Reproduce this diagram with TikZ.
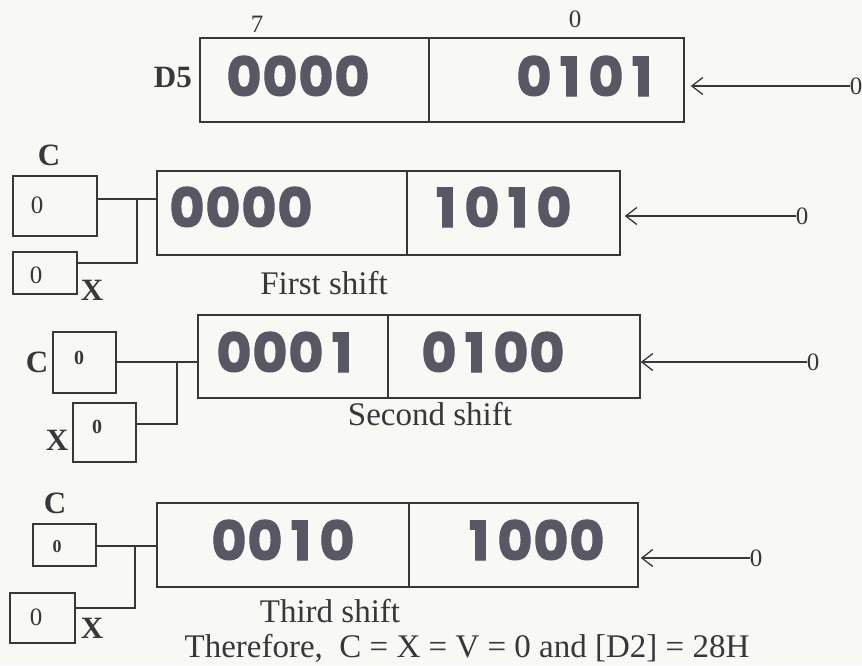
\documentclass[tikz,border=0pt]{standalone}
\usepackage{fontspec}
\setmainfont{Liberation Serif}
\newfontfamily\regfont{Poppins}[FakeBold=2]
\usetikzlibrary{positioning}
\usetikzlibrary{arrows.meta}
\definecolor{paper}{RGB}{248,248,245}
\definecolor{ink}{RGB}{55,55,60}
\definecolor{regink}{RGB}{88,88,100}
\newcommand\bitcell[1]{\makebox[36pt]{#1}}
\newcommand\nibble[4]{\bitcell{#1}\bitcell{#2}\bitcell{#3}\bitcell{#4}}
\tikzset{
  half/.style={draw=ink,line width=1.5pt,minimum height=84pt,inner sep=0pt},
  flag/.style={draw=ink,line width=1.5pt,inner sep=0pt},
  bits/.style={font=\regfont\bfseries\fontsize{54}{54}\selectfont,text=regink,inner sep=0pt},
  caption/.style={font=\fontsize{33}{33}\selectfont,text=ink,inner sep=0pt},
  tag/.style={font=\bfseries\fontsize{31}{31}\selectfont,text=ink,inner sep=0pt},
  bitno/.style={font=\fontsize{25}{25}\selectfont,text=ink,inner sep=0pt},
  link/.style={draw=ink,line width=1.3pt},
  feed/.style={draw=ink,line width=1.3pt,-{Straight Barb[length=11pt,width=17pt,line width=1.3pt]}}
}
\begin{document}
\begin{tikzpicture}[x=1pt,y=-1pt]
\fill[paper] (0,0) rectangle (862,665);
\useasboundingbox (0,0) rectangle (862,665);

% D5 before the shift
\node[half,minimum width=229pt] (a1) at (314.5,80) {};
\node[half,minimum width=255pt] (b1) at (556.5,80) {};
\node[bits] at (298,76) {\nibble0000};
\node[bits] at (588,76) {\nibble0101};
\node[bitno] at (257,24) {7};
\node[bitno] at (575,19) {0};
\node[tag,anchor=east] at (192,77) {D5};
\node[bitno] (z1) at (856,86) {0};
\draw[feed,shorten >=6pt] (z1.west) -- (b1.east |- z1);

% first shift
\node[half,minimum width=250pt] (a2) at (282,213) {};
\node[half,minimum width=213pt] (b2) at (513.5,213) {};
\node[bits] at (241,207) {\nibble0000};
\node[bits] at (500,207) {\nibble1010};
\node[flag,minimum width=84pt,minimum height=60pt] (c2) at (55,206) {};
\node[flag,minimum width=64pt,minimum height=42pt] (x2) at (45,273) {};
\node[bitno] at (37,205) {0};
\node[bitno] at (36,275) {0};
\node[tag] at (49,155) {C};
\node[tag] at (92,290) {X};
\coordinate (j2) at (137,199);
\coordinate (k2) at (137,263);
\draw[link] (c2.east |- j2) -- (a2.west |- j2);
\draw[link] (j2) -- (k2) -- (x2.east |- k2);
\node[caption] at (324,283) {First shift};
\node[bitno] (z2) at (802,216) {0};
\draw[feed,shorten >=4pt] (z2.west) -- (b2.east |- z2);

% second shift
\node[half,minimum width=190pt,minimum height=83pt] (a3) at (293,356.5) {};
\node[half,minimum width=252pt,minimum height=83pt] (b3) at (514,356.5) {};
\node[bits] at (288,352) {\nibble0001};
\node[bits] at (493,352) {\nibble0100};
\node[flag,minimum width=63pt,minimum height=61pt] (c3) at (84.5,362.5) {};
\node[flag,minimum width=63pt,minimum height=59pt] (x3) at (104.5,432.5) {};
\node[bitno,font=\bfseries\fontsize{20}{20}\selectfont] at (79,358) {0};
\node[bitno,font=\bfseries\fontsize{20}{20}\selectfont] at (97,427) {0};
\node[tag] at (37,362) {C};
\node[tag] at (57,440) {X};
\coordinate (j3) at (177,362);
\coordinate (k3) at (177,424);
\draw[link] (c3.east |- j3) -- (a3.west |- j3);
\draw[link] (j3) -- (k3) -- (x3.east |- k3);
\node[caption] at (430,414) {Second shift};
\node[bitno] (z3) at (813,362) {0};
\draw[feed] (z3.west) -- (b3.east |- z3);

% third shift
\node[half,minimum width=252pt] (a4) at (283,545) {};
\node[half,minimum width=229pt] (b4) at (523.5,545) {};
\node[bits] at (283,540) {\nibble0010};
\node[bits] at (533,540) {\nibble1000};
\node[flag,minimum width=63pt,minimum height=42pt] (c4) at (64.5,545) {};
\node[flag,minimum width=65pt,minimum height=50pt] (x4) at (42.5,618) {};
\node[bitno,font=\bfseries\fontsize{18}{18}\selectfont] at (57,547) {0};
\node[bitno] at (36,617) {0};
\node[tag] at (55,503) {C};
\node[tag] at (92,628) {X};
\coordinate (j4) at (135,546);
\coordinate (k4) at (135,608);
\draw[link] (c4.east |- j4) -- (a4.west |- j4);
\draw[link] (j4) -- (k4) -- (x4.east |- k4);
\node[caption] at (330,611) {Third shift};
\node[bitno] (z4) at (756,558) {0};
\draw[feed,shorten >=2pt] (z4.west) -- (b4.east |- z4);

\node[caption] at (467,648) {Therefore,\ \ C = X = V = 0 and [D2] = 28H};
\end{tikzpicture}
\end{document}
